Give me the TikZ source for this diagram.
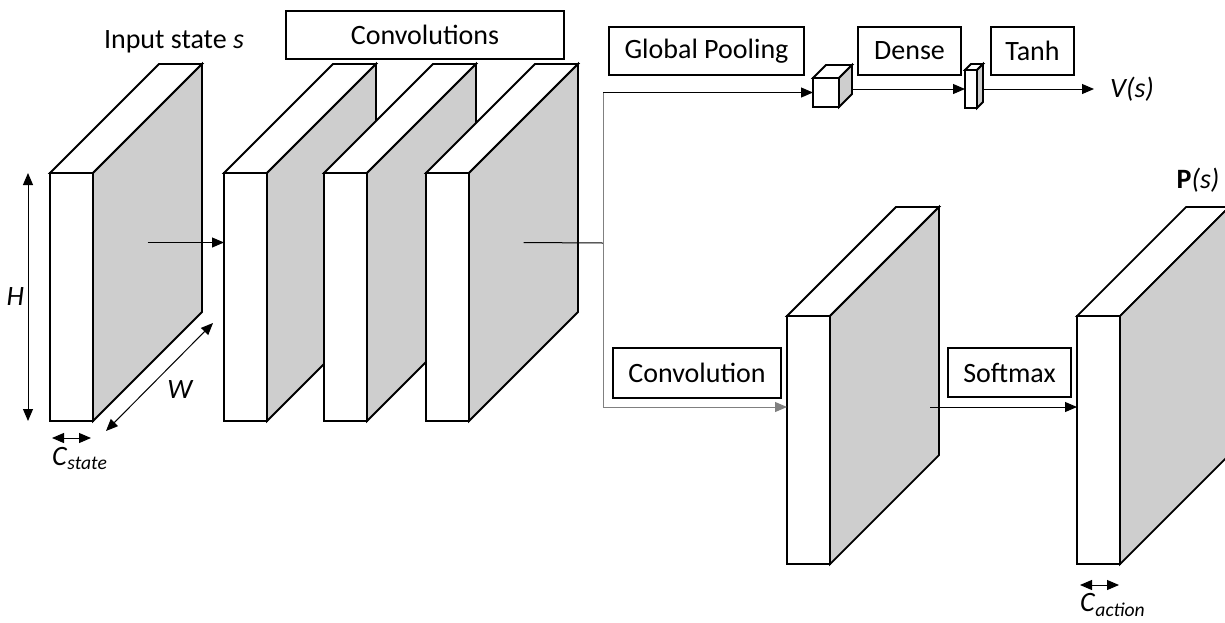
\documentclass[tikz,border=0pt]{standalone}
\usepackage{fontspec}
\setmainfont{Carlito}
\usetikzlibrary{positioning, calc, arrows.meta}

\definecolor{sidegray}{RGB}{206,206,206}
\definecolor{wiregray}{RGB}{128,128,128}

\tikzset{
  slab/.style={draw, fill=white, line width=1.8pt, inner sep=0pt, outer sep=0pt,
    minimum width=43pt, minimum height=248pt},
  cube/.style={slab, minimum width=26pt, minimum height=29pt},
  bar/.style={slab, minimum width=12pt, minimum height=38pt},
  label box/.style={draw, line width=1.4pt, inner sep=0pt, outer sep=0pt, minimum height=48pt},
  wire/.style={line width=1pt},
  dim/.style={<->, line width=1pt},
}

% top and side faces behind a front face
\newcommand{\slabdepth}[2]{%
  \filldraw[fill=white, line width=1.8pt] (#1.north west) -- ++(#2,-#2)
    -- ($(#1.north east)+(#2,-#2)$) -- (#1.north east) -- cycle;
  \filldraw[fill=sidegray, line width=1.8pt] (#1.north east) -- ++(#2,-#2)
    -- ($(#1.south east)+(#2,-#2)$) -- (#1.south east) -- cycle;
  \coordinate (#1-side) at ($(#1.east)+(#2/2,-#2/2)$);
  \coordinate (#1-back) at ($(#1.east)+(#2,-#2)$);
}

\begin{document}
\begin{tikzpicture}[x=1pt, y=-1pt, font=\fontsize{28}{33}\selectfont,
    >={Triangle[length=12pt,width=10pt]}]
  \useasboundingbox (0,0) rectangle (1225,622);
  \clip (0,0) rectangle (1225,622);

  % input and shared convolutions
  \node[slab] (in) at (71.5,297) {};
  \slabdepth{in}{109}
  \node[slab, right=131pt of in] (c1) {};
  \slabdepth{c1}{109}
  \node[slab, right=57pt of c1] (c2) {};
  \slabdepth{c2}{109}
  \node[slab, right=59pt of c2] (c3) {};
  \slabdepth{c3}{109}

  \node (input label) at (174,42) {Input state \textit{s}};
  \node[label box, minimum width=278pt] (convs) at (425,35) {Convolutions};

  % dimensions
  \draw[dim] ([xshift=-22pt]in.north west) -- ([xshift=-22pt]in.south west)
    node[midway, left] {\textit{H}};
  \draw[dim] ([shift={(13,10)}]in.south east) -- ++(107,-108)
    node[midway, below right, xshift=4pt] {\textit{W}};
  \draw[dim] ([shift={(2,17)}]in.south west) coordinate (cs) -- ([shift={(-2,17)}]in.south east);
  \node[anchor=north west, inner sep=0pt] (cstate) at ([shift={(0,9)}]cs)
    {\textit{C}\textsubscript{\textit{state}}};

  % value head
  \node[label box, minimum width=195pt] (pooling) at (706.5,51) {Global Pooling};
  \node[label box, minimum width=103pt, right=54pt of pooling] (dense) {Dense};
  \node[label box, minimum width=83pt, right=30pt of dense] (tanh) {Tanh};
  \node[cube] (pool) at (826,92.5) {};
  \slabdepth{pool}{13}
  \node[bar] (fc) at (971,89) {};
  \slabdepth{fc}{6}
  \node[anchor=west, inner sep=0pt] (value) at (1110,89) {\textit{V(s)}};

  % policy head
  \node[label box, minimum width=168pt, minimum height=50pt] (conv) at (697,373) {Convolution};
  \node[slab] (mid) at (808.5,440) {};
  \slabdepth{mid}{109}
  \node[label box, minimum width=123pt, minimum height=49pt] (softmax) at (1009.5,372.5) {Softmax};
  \node[slab, right=247pt of mid] (out) {};
  \slabdepth{out}{109}
  \node (policy) at (1198,180) {\textbf{P}\textit{(s)}};
  \draw[dim] ([shift={(3,21)}]out.south west) coordinate (ca) -- ([shift={(-1,21)}]out.south east);
  \node[anchor=north west, inner sep=0pt] (caction) at ([shift={(0,8)}]ca)
    {\textit{C}\textsubscript{\textit{action}}};

  % connectors
  \coordinate (split) at (603,243);
  \coordinate (mid-in) at ([yshift=33pt]mid.west);
  \coordinate (mid-out) at (930,407);
  \draw[->, wire] (in-side) -- (in-side -| c1.west);
  \draw[wire] (c3-side) -- (split);
  \draw[wire, wiregray] (split |- pool.west) -- (split |- mid-in);
  \draw[->, wire] (split |- pool.west) -- (pool.west);
  \draw[->, wire, wiregray] (split |- mid-in) -- (mid-in);
  \draw[->, wire] (pool-back |- fc.west) -- (fc.west);
  \draw[->, wire] (fc-back |- fc.west) -- ([xshift=-16pt]value.west);
  \draw[->, wire] (mid-out) -- (mid-out -| out.west);
\end{tikzpicture}
\end{document}
